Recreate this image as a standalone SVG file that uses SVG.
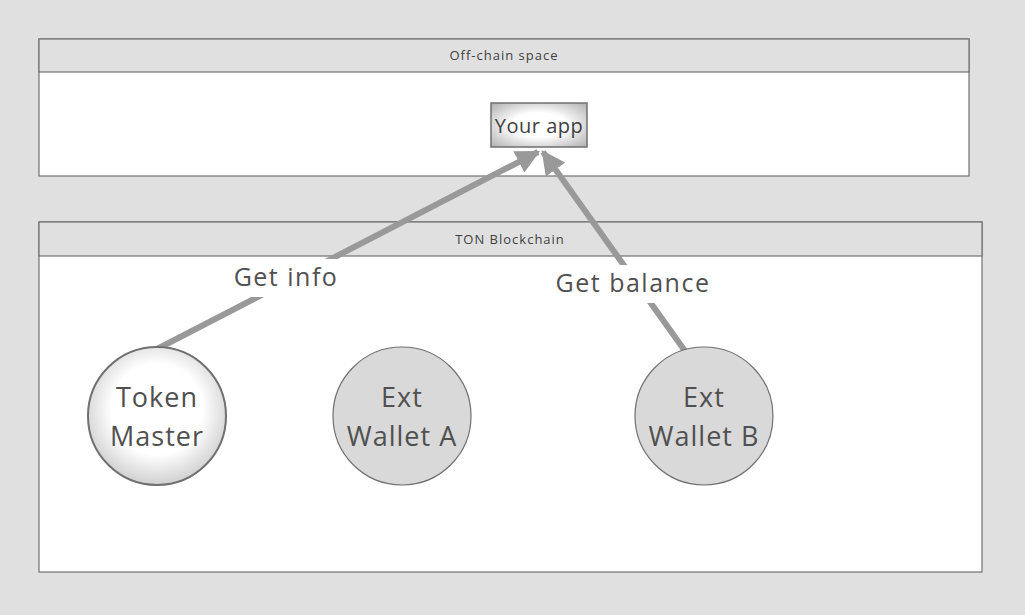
<svg xmlns="http://www.w3.org/2000/svg" width="1025" height="615" viewBox="0 0 1025 615">
<style>
.hdr{fill:#e0e0e0;stroke:#707070;stroke-width:1.2}
.body{fill:#ffffff;stroke:#707070;stroke-width:1.2}
.htxt{font-family:"Open Sans","DejaVu Sans",sans-serif;font-size:13px;letter-spacing:1px;fill:#404040;text-anchor:middle}
.ntxt{font-family:"Open Sans","DejaVu Sans",sans-serif;font-size:27px;letter-spacing:1px;fill:#505050;text-anchor:middle}
.ltxt{font-family:"Open Sans","DejaVu Sans",sans-serif;font-size:25px;letter-spacing:1.5px;fill:#505050;text-anchor:middle}
.conn{stroke:#999999;stroke-width:6;fill:none}
.wal{fill:#d9d9d9;stroke:#707070;stroke-width:1.2}
</style>
<defs>
<radialGradient id="gApp" cx="50%" cy="50%" r="70%">
<stop offset="0.4" stop-color="#ffffff"/>
<stop offset="1" stop-color="#b0b0b0"/>
</radialGradient>
<radialGradient id="gTok" cx="50%" cy="45%" r="55%">
<stop offset="0.6" stop-color="#ffffff"/>
<stop offset="1" stop-color="#d0d0d0"/>
</radialGradient>
<marker id="arr" viewBox="0 0 10 10" refX="9" refY="5" markerWidth="4" markerHeight="4" orient="auto" markerUnits="strokeWidth">
<path d="M0,0 L10,5 L0,10 z" fill="#999999"/>
</marker>
</defs>
<rect x="0" y="0" width="1025" height="615" fill="#e0e0e0"/>
<g id="offchain">
<rect class="body" x="39" y="39" width="930" height="137"/>
<rect class="hdr" x="39" y="39" width="930" height="33"/>
<text class="htxt" x="504" y="60">Off-chain space</text>
</g>
<g id="ton">
<rect class="body" x="39" y="222" width="943" height="350"/>
<rect class="hdr" x="39" y="222" width="943" height="34"/>
<text class="htxt" x="510" y="244">TON Blockchain</text>
</g>
<g id="yourapp">
<rect x="491" y="103" width="96" height="44" fill="url(#gApp)" stroke="#707070" stroke-width="1.5"/>
<text class="ltxt" x="539" y="133" style="font-size:20px;letter-spacing:0.5px;fill:#404040">Your app</text>
</g>
<g id="connectors">
<line class="conn" x1="157" y1="349" x2="538" y2="152" marker-end="url(#arr)"/>
<line class="conn" x1="685" y1="351" x2="543" y2="152" marker-end="url(#arr)"/>
<rect x="228" y="259" width="116" height="38" fill="#ffffff"/>
<text class="ltxt" x="286" y="286">Get info</text>
<rect x="552" y="265" width="162" height="38" fill="#ffffff"/>
<text class="ltxt" x="633" y="292">Get balance</text>
</g>
<g id="tokenmaster">
<circle cx="157" cy="416" r="69" fill="url(#gTok)" stroke="#707070" stroke-width="2"/>
<text class="ntxt" x="157" y="407">Token</text>
<text class="ntxt" x="157" y="446">Master</text>
</g>
<g id="walletA">
<circle class="wal" cx="402" cy="416" r="69"/>
<text class="ntxt" x="402" y="407">Ext</text>
<text class="ntxt" x="402" y="446">Wallet A</text>
</g>
<g id="walletB">
<circle class="wal" cx="704" cy="416" r="69"/>
<text class="ntxt" x="704" y="407">Ext</text>
<text class="ntxt" x="704" y="446">Wallet B</text>
</g>
</svg>
